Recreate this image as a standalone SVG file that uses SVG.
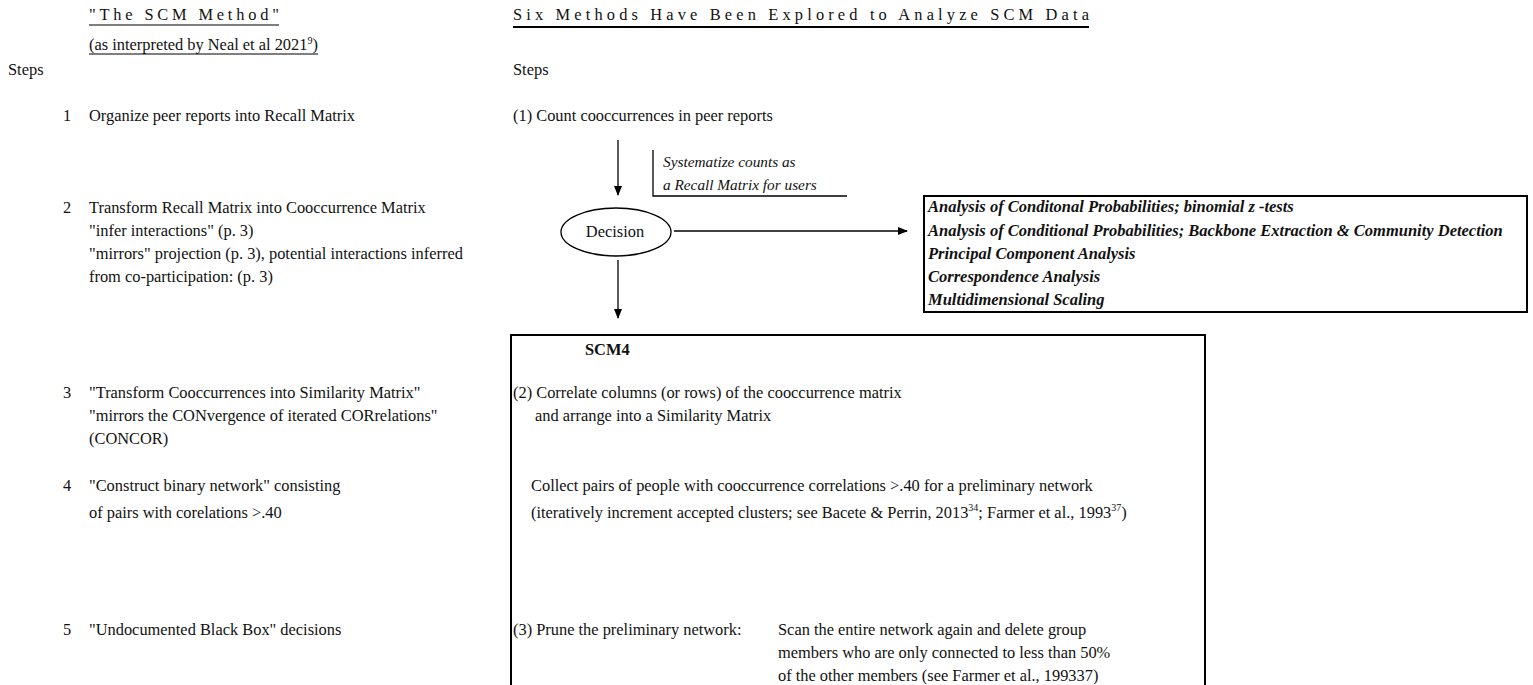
<svg xmlns="http://www.w3.org/2000/svg" width="1533" height="685" viewBox="0 0 1533 685">
<defs>
<marker id="ah" markerWidth="10" markerHeight="8" refX="9" refY="4" orient="auto" markerUnits="userSpaceOnUse">
<path d="M0,0 L10,4 L0,8 Z" fill="#000"/>
</marker>
<style>
text{font-family:"Liberation Serif","Times New Roman",serif;font-size:16.4px;fill:#111;}
.bi{font-weight:bold;font-style:italic;font-size:16.5px;}
.it{font-style:italic;font-size:15.3px;}
.b{font-weight:bold;}
.ln{stroke:#000;stroke-width:1.3;fill:none;}
.box{stroke:#000;stroke-width:2;fill:none;}
.sup{font-size:10px;}
</style>
</defs>
<rect width="1533" height="685" fill="#fff"/>

<g id="headers">
<text x="89" y="20" textLength="190" lengthAdjust="spacing">"The SCM Method"</text>
<line x1="89" y1="25" x2="279" y2="25" stroke="#000" stroke-width="1.2"/>
<text x="89" y="50">(as interpreted by Neal et al 2021<tspan class="sup" dy="-6">9</tspan><tspan dy="6">)</tspan></text>
<line x1="89" y1="54" x2="318" y2="54" stroke="#000" stroke-width="1.2"/>
<text x="513" y="20" textLength="576" lengthAdjust="spacing">Six Methods Have Been Explored to Analyze SCM Data</text>
<line x1="513" y1="27" x2="1089" y2="27" stroke="#000" stroke-width="2"/>
<text x="8" y="75">Steps</text>
<text x="513" y="75">Steps</text>
</g>

<g id="left-steps">
<text x="63" y="121">1</text>
<text x="89" y="121">Organize peer reports into Recall Matrix</text>
<text x="63" y="213">2</text>
<text x="89" y="213">Transform Recall Matrix into Cooccurrence Matrix</text>
<text x="89" y="236">"infer interactions" (p. 3)</text>
<text x="89" y="259">"mirrors" projection (p. 3), potential  interactions inferred</text>
<text x="89" y="282">from co-participation: (p. 3)</text>
<text x="63" y="398">3</text>
<text x="89" y="398">"Transform Cooccurrences into Similarity Matrix"</text>
<text x="89" y="421">"mirrors the CONvergence of iterated CORrelations"</text>
<text x="89" y="444">(CONCOR)</text>
<text x="63" y="491">4</text>
<text x="89" y="491">"Construct binary network" consisting</text>
<text x="89" y="518">of pairs with corelations &gt;.40</text>
<text x="63" y="635">5</text>
<text x="89" y="635">"Undocumented Black Box" decisions</text>
</g>

<g id="count">
<text x="513" y="121">(1) Count cooccurrences in peer reports</text>
</g>

<g id="systematize">
<polyline class="ln" points="653,150 653,196 847,196"/>
<text class="it" x="663" y="167">Systematize counts as</text>
<text class="it" x="663" y="190">a Recall Matrix for users</text>
</g>

<g id="decision">
<ellipse cx="616" cy="232" rx="55" ry="24" fill="#fff" stroke="#000" stroke-width="1.3"/>
<text x="615" y="237" text-anchor="middle">Decision</text>
</g>

<g id="methods">
<rect class="box" x="924" y="196" width="603" height="116"/>
<text class="bi" x="928" y="212">Analysis of Conditonal Probabilities; binomial z -tests</text>
<text class="bi" x="928" y="236">Analysis of Conditional Probabilities; Backbone Extraction &amp; Community Detection</text>
<text class="bi" x="928" y="259">Principal Component Analysis</text>
<text class="bi" x="928" y="282">Correspondence Analysis</text>
<text class="bi" x="928" y="305">Multidimensional Scaling</text>
</g>

<g id="scm4">
<polyline class="box" points="511,690 511,335 1205,335 1205,690"/>
<text class="b" x="585" y="355">SCM4</text>
<text x="513" y="398">(2) Correlate columns (or rows) of the cooccurrence matrix</text>
<text x="535" y="421">and arrange into a Similarity Matrix</text>
<text x="531" y="491">Collect pairs of people with cooccurrence correlations &gt;.40 for a preliminary network</text>
<text x="531" y="518">(iteratively increment accepted clusters; see Bacete &amp; Perrin, 2013<tspan class="sup" dy="-7">34</tspan><tspan dy="7">; Farmer et al., 1993</tspan><tspan class="sup" dy="-7">37</tspan><tspan dy="7">)</tspan></text>
<text x="513" y="635">(3) Prune the preliminary network:</text>
<text x="778" y="635">Scan the entire network again and delete group</text>
<text x="778" y="658">members who are only connected to less than 50%</text>
<text x="778" y="681">of the other members (see Farmer et al., 199337)</text>
</g>

<g id="connectors">
<line class="ln" x1="618" y1="140" x2="618" y2="195" marker-end="url(#ah)"/>
<line class="ln" x1="674" y1="231" x2="907" y2="231" marker-end="url(#ah)"/>
<line class="ln" x1="618" y1="260" x2="618" y2="318" marker-end="url(#ah)"/>
</g>
</svg>
